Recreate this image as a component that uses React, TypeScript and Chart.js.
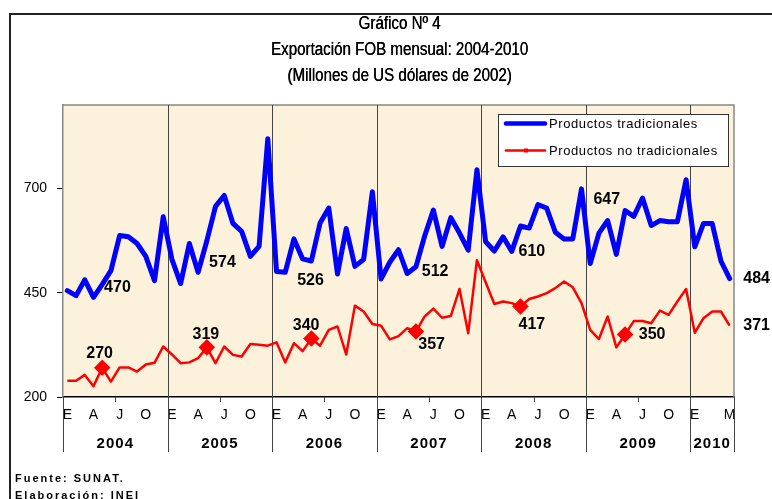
import React, { useEffect, useRef } from 'react';
import { Chart, registerables } from 'chart.js';

Chart.register(...registerables);

// ---- Data ----
const years = ['2004', '2005', '2006', '2007', '2008', '2009', '2010'];
const monthsPerYear = [12, 12, 12, 12, 12, 12, 5];
const monthNames = ['Ene', 'Feb', 'Mar', 'Abr', 'May', 'Jun', 'Jul', 'Ago', 'Set', 'Oct', 'Nov', 'Dic'];

const categories: string[] = [];
years.forEach((y, yi) => {
  for (let m = 0; m < monthsPerYear[yi]; m++) categories.push(`${monthNames[m]} ${y}`);
});

const xTickLabels = [
  'E', '', '', 'A', '', '', 'J', '', '', 'O', '', '',
  'E', '', '', 'A', '', '', 'J', '', '', 'O', '', '',
  'E', '', '', 'A', '', '', 'J', '', '', 'O', '', '',
  'E', '', '', 'A', '', '', 'J', '', '', 'O', '', '',
  'E', '', '', 'A', '', '', 'J', '', '', 'O', '', '',
  'E', '', '', 'A', '', '', 'J', '', '', 'O', '', '',
  'E', '', '', '', 'M',
];

const yTicks = [200, 450, 700];

const tradicionales = [
  455, 443, 481, 439, 470, 503, 587, 584, 568, 537, 479, 632,
  530, 472, 568, 499, 574, 657, 683, 616, 597, 537, 561, 819,
  501, 499, 579, 531, 526, 617, 653, 495, 604, 513, 530, 692,
  483, 523, 553, 496, 512, 586, 648, 561, 630, 593, 552, 745,
  572, 550, 584, 549, 610, 605, 661, 653, 595, 579, 579, 699,
  520, 593, 623, 542, 647, 633, 677, 611, 623, 620, 620, 721,
  560, 616, 616, 526, 484,
];

const noTradicionales = [
  239, 239, 253, 226, 270, 237, 271, 271, 261, 278, 282, 321,
  302, 281, 283, 293, 319, 281, 321, 301, 297, 327, 325, 323,
  331, 283, 329, 310, 340, 323, 361, 369, 302, 419, 405, 375,
  371, 338, 346, 365, 357, 393, 412, 390, 394, 459, 353, 528,
  475, 423, 429, 425, 417, 435, 441, 449, 461, 477, 463, 425,
  361, 339, 393, 319, 350, 382, 382, 377, 407, 397, 429, 459,
  354, 389, 405, 405, 371,
];

// points highlighted with a diamond on the red series
const markedPoints = [4, 16, 28, 40, 52, 64];

// value notes: anchor in data space (category index, value)
const blueNoteText = ['470', '574', '526', '512', '610', '647', '484'];
const blueNoteIdx = [5.75, 17.8, 27.9, 42.2, 53.3, 61.9, 79.1];
const blueNoteVal = [463, 523, 479, 501, 548, 673, 483];

const redNoteText = ['270', '319', '340', '357', '417', '350', '371'];
const redNoteIdx = [3.7, 15.9, 27.4, 41.8, 53.3, 67.1, 79.1];
const redNoteVal = [303, 349, 370, 325, 373, 349, 370];

const titleLines = ['Gráfico Nº 4', 'Exportación FOB mensual: 2004-2010', '(Millones de US dólares de 2002)'];
const seriesNames = ['Productos tradicionales', 'Productos no tradicionales'];
const footLines = ['Fuente: SUNAT.', 'Elaboración: INEI'];

const SANS = '"Liberation Sans", Arial, sans-serif';

const decor = {
  id: 'decor',
  beforeDraw(chart: any) {
    const { ctx, chartArea: a } = chart;
    ctx.save();
    ctx.fillStyle = '#ffffff';
    ctx.fillRect(0, 0, chart.width, chart.height);
    // outer frame
    ctx.strokeStyle = '#222';
    ctx.lineWidth = 2;
    ctx.beginPath();
    ctx.moveTo(10, chart.height + 5);
    ctx.lineTo(10, 14);
    ctx.lineTo(chart.width + 5, 14);
    ctx.stroke();
    // plot background
    ctx.fillStyle = '#fcf2dc';
    ctx.fillRect(a.left, a.top, a.right - a.left, a.bottom - a.top);
    // title (condensed)
    ctx.fillStyle = '#000';
    ctx.textAlign = 'center';
    ctx.textBaseline = 'middle';
    ctx.font = `18px ${SANS}`;
    const cx = (a.left + a.right) / 2 + 1;
    const ty = [24, 50, 76];
    titleLines.forEach((t, i) => {
      ctx.save();
      ctx.translate(cx, ty[i]);
      ctx.scale(0.84, 1);
      ctx.fillText(t, 0, 0);
      ctx.fillText(t, 0.4, 0);
      ctx.restore();
    });
    // footer
    ctx.textAlign = 'left';
    ctx.font = `bold 11px ${SANS}`;
    (ctx as any).letterSpacing = '2px';
    ctx.fillText(footLines[0], 15, 479);
    ctx.fillText(footLines[1], 15, 496);
    (ctx as any).letterSpacing = '0px';
    ctx.restore();
  },
  beforeDatasetsDraw(chart: any) {
    const { ctx, chartArea: a, scales } = chart;
    const x = scales.x;
    ctx.save();
    // plot border top/right
    ctx.strokeStyle = '#888';
    ctx.lineWidth = 1.5;
    ctx.beginPath();
    ctx.moveTo(a.left, a.top);
    ctx.lineTo(a.right, a.top);
    ctx.lineTo(a.right, a.bottom);
    ctx.stroke();
    // year boundaries
    let start = 0;
    const bottomExt = a.bottom + 55;
    ctx.strokeStyle = '#444';
    ctx.lineWidth = 1;
    ctx.font = `bold 15px ${SANS}`;
    ctx.fillStyle = '#000';
    ctx.textAlign = 'center';
    ctx.textBaseline = 'middle';
    years.forEach((yr, yi) => {
      const x0 = x.getPixelForValue(start - 0.5);
      const x1 = x.getPixelForValue(start + monthsPerYear[yi] - 0.5);
      const px = Math.round(x0) + 0.5;
      ctx.beginPath();
      ctx.moveTo(px, yi === 0 ? a.bottom : a.top);
      ctx.lineTo(px, bottomExt);
      ctx.stroke();
      if (monthsPerYear[yi] === 12) {
        const mx = Math.round(x.getPixelForValue(start + 5.5)) + 0.5;
        ctx.beginPath();
        ctx.moveTo(mx, a.bottom);
        ctx.lineTo(mx, a.bottom + 5);
        ctx.stroke();
      }
      (ctx as any).letterSpacing = '1px';
      ctx.fillText(yr, (x0 + x1) / 2, a.bottom + 47);
      (ctx as any).letterSpacing = '0px';
      start += monthsPerYear[yi];
    });
    const xe = Math.round(x.getPixelForValue(start - 0.5)) + 0.5;
    ctx.beginPath();
    ctx.moveTo(xe, a.bottom);
    ctx.lineTo(xe, bottomExt);
    ctx.stroke();
    ctx.restore();
  },
  afterDraw(chart: any) {
    const { ctx, scales } = chart;
    const x = scales.x;
    const y = scales.y;
    ctx.save();
    ctx.fillStyle = '#000';
    ctx.font = `bold 16px ${SANS}`;
    ctx.textAlign = 'center';
    ctx.textBaseline = 'middle';
    blueNoteText.forEach((t, i) => ctx.fillText(t, x.getPixelForValue(blueNoteIdx[i]), y.getPixelForValue(blueNoteVal[i])));
    redNoteText.forEach((t, i) => ctx.fillText(t, x.getPixelForValue(redNoteIdx[i]), y.getPixelForValue(redNoteVal[i])));

    // legend
    const lx = 498, ly = 114, lw = 230, lh = 52;
    ctx.fillStyle = '#fff';
    ctx.fillRect(lx, ly, lw, lh);
    ctx.strokeStyle = '#333';
    ctx.lineWidth = 1;
    ctx.strokeRect(lx + 0.5, ly + 0.5, lw, lh);
    ctx.lineCap = 'round';
    ctx.strokeStyle = '#0000ff';
    ctx.lineWidth = 4.5;
    ctx.beginPath();
    ctx.moveTo(506, 123.5);
    ctx.lineTo(545, 123.5);
    ctx.stroke();
    ctx.strokeStyle = '#ff0000';
    ctx.lineWidth = 2.5;
    ctx.beginPath();
    ctx.moveTo(506, 150.5);
    ctx.lineTo(545, 150.5);
    ctx.stroke();
    ctx.fillStyle = '#ff0000';
    ctx.fillRect(524, 148.5, 4, 4);
    ctx.fillStyle = '#000';
    ctx.textAlign = 'left';
    ctx.font = `13px ${SANS}`;
    (ctx as any).letterSpacing = '0.6px';
    ctx.fillText(seriesNames[0], 549, 124);
    ctx.fillText(seriesNames[1], 549, 151);
    (ctx as any).letterSpacing = '0px';
    ctx.restore();
  },
};

export default function App() {
  const ref = useRef<HTMLCanvasElement | null>(null);
  useEffect(() => {
    if (!ref.current) return;
    Chart.defaults.font.family = SANS;
    const chart = new Chart(ref.current, {
      type: 'line',
      data: {
        labels: categories,
        datasets: [
          {
            label: seriesNames[0],
            data: tradicionales,
            borderColor: '#0000ff',
            backgroundColor: '#0000ff',
            borderWidth: 5,
            pointRadius: 0,
            borderJoinStyle: 'round',
            borderCapStyle: 'round',
            tension: 0,
          },
          {
            label: seriesNames[1],
            data: noTradicionales,
            borderColor: '#ff0000',
            backgroundColor: '#ff0000',
            borderWidth: 2.5,
            pointStyle: 'rectRot',
            pointRadius: noTradicionales.map((_, i) => (markedPoints.includes(i) ? 6.5 : 0)),
            pointBackgroundColor: '#ff0000',
            pointBorderColor: '#ff0000',
            borderJoinStyle: 'round',
            tension: 0,
          },
        ],
      },
      options: {
        animation: false,
        responsive: false,
        devicePixelRatio: 1,
        layout: { padding: { left: 0, top: 105, right: 38, bottom: 0 } },
        plugins: { legend: { display: false }, tooltip: { enabled: false }, title: { display: false } },
        scales: {
          x: {
            type: 'category',
            offset: true,
            grid: { display: false, drawTicks: false },
            border: { display: true, color: '#000', width: 1.5 },
            ticks: {
              autoSkip: false,
              maxRotation: 0,
              minRotation: 0,
              padding: 10,
              color: '#000',
              font: { size: 14, family: SANS },
              callback: (_v: any, i: number) => xTickLabels[i],
            },
            afterFit: (s: any) => {
              s.height = 102;
            },
          },
          y: {
            min: 200,
            max: 900,
            ticks: {
              stepSize: 250,
              color: '#000',
              padding: 10,
              font: { size: 14, family: SANS },
            },
            afterBuildTicks: (s: any) => {
              s.ticks = yTicks.map((v) => ({ value: v }));
            },
            grid: { drawOnChartArea: false, drawTicks: true, tickLength: 6, color: '#000' },
            border: { display: true, color: '#888', width: 1.5 },
            afterFit: (s: any) => {
              s.width = 63;
            },
          },
        },
      },
      plugins: [decor],
    } as any);
    return () => chart.destroy();
  }, []);
  return (
    <div style={{ position: 'absolute', left: 0, top: 0, width: 772, height: 499 }}>
      <canvas ref={ref} width={772} height={499} style={{ display: 'block' }} />
    </div>
  );
}
